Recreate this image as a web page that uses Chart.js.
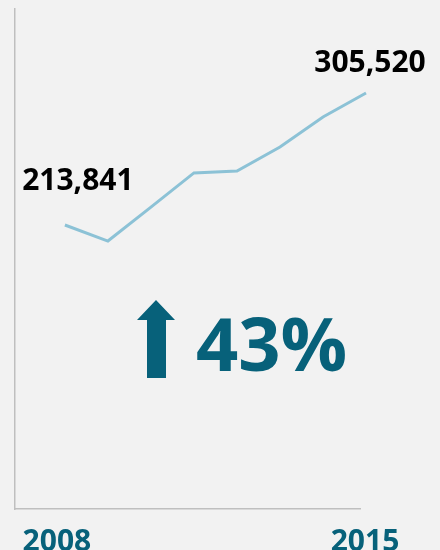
<!DOCTYPE html>
<html>
<head>
<meta charset="utf-8">
<script src="https://cdn.jsdelivr.net/npm/chart.js@4.4.1/dist/chart.umd.min.js"></script>
<style>
  html,body{margin:0;padding:0;background:#f2f2f2;}
  #wrap{width:440px;height:550px;position:relative;}
</style>
</head>
<body>
<div id="wrap"><canvas id="trendChart"></canvas></div>
<script>
/* ===== Data ===== */
const YEARS  = [2008,2009,2010,2011,2012,2013,2014,2015];
const VALUES = [213841,202700,226300,250000,251300,268000,288800,305520];
const YEAR_LABELS = ['2008','2015'];
const CHANGE_LABEL = '43%';

const TEAL = '#07617a';
const LINE = '#8cc2d6';
const FONT = '"Open Sans", "Noto Sans", sans-serif';

// first / last value labels + year labels + the big change callout
const annotatePlugin = {
  id:'annotate',
  afterDatasetsDraw(chart){
    const {ctx:c, scales:{x}} = chart;
    const pts = chart.getDatasetMeta(0).data;
    const first = pts[0], last = pts[pts.length-1];
    c.save();
    c.fillStyle = '#000';
    c.font = 'bold 30px ' + FONT;
    c.textAlign = 'center';
    c.textBaseline = 'alphabetic';
    c.fillText(VALUES[0].toLocaleString('en-US'), first.x + 13, first.y - 35);
    c.fillText(VALUES[VALUES.length-1].toLocaleString('en-US'), last.x + 4, last.y - 21);

    // year labels under the axis
    c.fillStyle = TEAL;
    c.fillText(YEAR_LABELS[0], x.getPixelForValue(YEARS[0]) - 8, 551);
    c.fillText(YEAR_LABELS[1], x.getPixelForValue(YEARS[YEARS.length-1]) - 1, 551);

    // arrow
    c.beginPath();
    c.moveTo(156, 300);
    c.lineTo(175, 320);
    c.lineTo(166, 320);
    c.lineTo(166, 378);
    c.lineTo(147, 378);
    c.lineTo(147, 320);
    c.lineTo(137, 320);
    c.closePath();
    c.fill();

    c.font = 'bold 74px ' + FONT;
    c.textAlign = 'left';
    c.fillText(CHANGE_LABEL, 196, 371);
    c.restore();
  }
};

new Chart(document.getElementById('trendChart'), {
  type:'line',
  plugins:[annotatePlugin],
  data:{
    datasets:[{
      data: YEARS.map((yr,i) => ({x:yr, y:VALUES[i]})),
      borderColor: LINE,
      borderWidth: 3,
      pointRadius: 0,
      tension: 0,
      fill: false,
      clip: false,
    }]
  },
  options:{
    responsive:true, maintainAspectRatio:false, animation:false,
    layout:{padding:{left:14, top:9, right:80, bottom:40}},
    plugins:{legend:{display:false}, tooltip:{enabled:false}},
    scales:{
      x:{type:'linear', min:2006.84, max:2014.86,
         grid:{display:false}, ticks:{display:false},
         border:{display:true, color:'#bfbfbf', width:1.5},
         afterFit(s){ s.height = 1; }},
      y:{min:16600, max:363850,
         grid:{display:false}, ticks:{display:false},
         border:{display:true, color:'#bfbfbf', width:1.5},
         afterFit(s){ s.width = 1; }}
    }
  }
});
</script>
</body>
</html>
